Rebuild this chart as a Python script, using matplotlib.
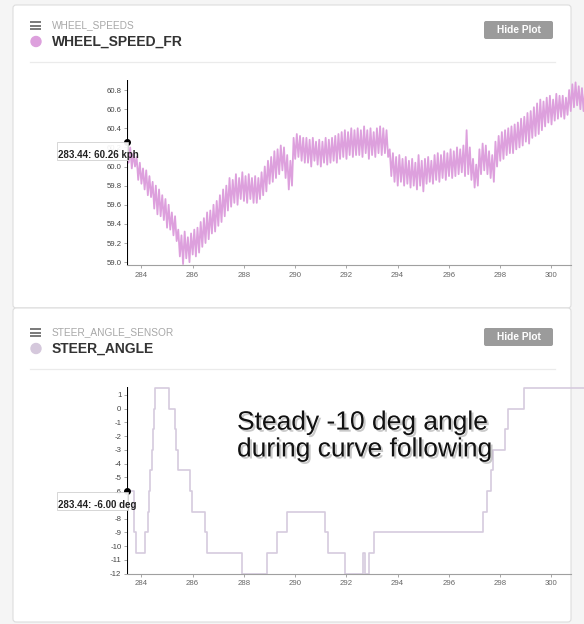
import numpy as np
import matplotlib.pyplot as plt
import matplotlib.patheffects as pe
from matplotlib.patches import FancyBboxPatch, Rectangle, Circle

plt.rcParams['font.family'] = ['Liberation Sans', 'DejaVu Sans']
plt.rcParams['axes.unicode_minus'] = False

# -----------------
# Data
# -----------------

# cursor position (tooltip values)
t_cursor = 283.44
speed_at_cursor = 60.26
steer_at_cursor = -6.00

# WHEEL_SPEED_FR in kph, 16 samples per second starting at the cursor
sample_period = 0.0625
speed_kph = [
    60.26, 60.04, 60.20, 59.98, 60.14, 60.00, 60.10, 59.86, 60.04, 59.82, 59.98, 59.76, 59.96, 59.70, 59.90, 59.68,
    59.84, 59.56, 59.80, 59.50, 59.76, 59.48, 59.70, 59.44, 59.66, 59.36, 59.60, 59.34, 59.52, 59.28, 59.48, 59.22,
    59.34, 59.06, 59.28, 58.98, 59.32, 59.04, 59.26, 59.00, 59.30, 59.08, 59.34, 59.06, 59.36, 59.10, 59.42, 59.16,
    59.46, 59.20, 59.52, 59.24, 59.54, 59.30, 59.60, 59.32, 59.64, 59.38, 59.70, 59.42, 59.76, 59.48, 59.80, 59.54,
    59.88, 59.58, 59.86, 59.62, 59.92, 59.60, 59.88, 59.66, 59.94, 59.64, 59.90, 59.62, 59.92, 59.66, 59.88, 59.62,
    59.90, 59.62, 59.88, 59.66, 59.94, 59.70, 60.00, 59.74, 60.06, 59.82, 60.10, 59.84, 60.16, 59.88, 60.18, 59.92,
    60.22, 59.96, 60.20, 59.88, 60.12, 59.76, 60.06, 59.80, 60.30, 60.08, 60.34, 60.10, 60.32, 60.06, 60.30, 60.04,
    60.30, 60.04, 60.28, 60.00, 60.30, 60.06, 60.26, 60.02, 60.28, 60.00, 60.26, 60.04, 60.30, 60.02, 60.28, 60.04,
    60.30, 60.06, 60.32, 60.04, 60.34, 60.08, 60.36, 60.10, 60.38, 60.08, 60.36, 60.12, 60.40, 60.10, 60.38, 60.12,
    60.40, 60.12, 60.38, 60.10, 60.42, 60.14, 60.38, 60.08, 60.40, 60.12, 60.36, 60.10, 60.40, 60.14, 60.42, 60.12,
    60.40, 60.14, 60.38, 60.10, 60.18, 59.90, 60.14, 59.84, 60.10, 59.80, 60.12, 59.84, 60.08, 59.80, 60.10, 59.82,
    60.06, 59.78, 60.08, 59.80, 60.04, 59.76, 60.12, 59.80, 60.06, 59.74, 60.08, 59.82, 60.10, 59.84, 60.06, 59.82,
    60.12, 59.86, 60.14, 59.84, 60.12, 59.88, 60.16, 59.86, 60.14, 59.90, 60.18, 59.88, 60.16, 59.90, 60.20, 59.92,
    60.18, 59.94, 60.22, 59.90, 60.38, 59.92, 60.20, 59.86, 60.08, 59.78, 60.02, 59.80, 60.18, 59.92, 60.24, 59.96,
    60.22, 59.92, 60.16, 59.88, 60.12, 59.84, 60.26, 60.00, 60.32, 60.06, 60.36, 60.08, 60.38, 60.12, 60.40, 60.14,
    60.42, 60.14, 60.44, 60.18, 60.46, 60.20, 60.50, 60.22, 60.52, 60.26, 60.56, 60.24, 60.58, 60.30, 60.62, 60.32,
    60.66, 60.34, 60.70, 60.38, 60.68, 60.42, 60.72, 60.46, 60.74, 60.44, 60.70, 60.48, 60.76, 60.50, 60.74, 60.52,
    60.74, 60.50, 60.72, 60.54, 60.80, 60.58, 60.86, 60.62, 60.88, 60.64, 60.84, 60.60, 60.82, 60.58, 60.80, 60.56,
]

# STEER_ANGLE steps (time of change, new angle in deg)
steer_times = [283.44, 283.70, 283.81, 284.16, 284.26, 284.30, 284.35, 284.40,
               284.44, 284.48, 284.55, 285.09, 285.30, 285.36, 285.42, 285.91,
               285.98, 286.50, 286.56, 287.93, 288.90, 289.29, 289.68, 291.17,
               291.30, 291.95, 292.64, 292.71, 292.87, 293.06, 297.32, 297.48,
               297.65, 297.71, 298.19, 298.32, 298.93, 301.30]
steer_deg = [-6, -9, -10.5, -9, -7.5, -6, -4.5, -3,
             -1.5, 0, 1.5, 0, -1.5, -3, -4.5, -6,
             -7.5, -9, -10.5, -12, -10.5, -9, -7.5, -9,
             -10.5, -12, -10.5, -12, -10.5, -9, -7.5, -6,
             -4.5, -3, -1.5, 0, 1.5, 1.5]

time_ticks = [284, 286, 288, 290, 292, 294, 296, 298, 300]
speed_ticks = [59.0, 59.2, 59.4, 59.6, 59.8, 60.0, 60.2, 60.4, 60.6, 60.8]
steer_ticks = [1, 0, -1, -2, -3, -4, -5, -6, -7, -8, -9, -10, -11, -12]

speed_color = "#dda0dd"
steer_color = "#d6cbde"

# -----------------
# Figure / page
# -----------------

W, H = 584, 624
fig = plt.figure(figsize=(W / 100, H / 100), dpi=100, facecolor="#f5f5f5")


def px_rect(x0, y0, x1, y1):
    return [x0 / W, 1 - y1 / H, (x1 - x0) / W, (y1 - y0) / H]


bg = fig.add_axes([0, 0, 1, 1], zorder=0)
bg.set_xlim(0, W)
bg.set_ylim(H, 0)
bg.axis("off")

# cards
for y0, y1 in [(5, 308), (308, 622)]:
    bg.add_patch(FancyBboxPatch((13, y0), 558, y1 - y0,
                                boxstyle="round,pad=0,rounding_size=3",
                                fc="white", ec="#dddddd", lw=0.8))


def header(y_top, group, name, dot_color):
    # hamburger icon
    for dy in (0, 3.5, 7):
        bg.plot([30, 41], [y_top - 3 + dy] * 2, color="#555555", lw=1.1,
                solid_capstyle="butt")
    bg.text(52, y_top, group, fontsize=7.3, color="#a8a8a8", va="center")
    bg.add_patch(Circle((36, y_top + 16.5), 5, color=dot_color))
    bg.text(52, y_top + 17, name, fontsize=10, fontweight="bold",
            color="#333333", va="center")
    bg.plot([30, 555], [y_top + 36.5] * 2, color="#ebebeb", lw=0.9)
    bg.add_patch(FancyBboxPatch((484, y_top - 4), 69, 18,
                                boxstyle="round,pad=0,rounding_size=2",
                                fc="#9b9b9b", ec="none"))
    bg.text(518.5, y_top + 5, "Hide Plot", fontsize=7.3, fontweight="bold",
            color="white", ha="center", va="center")


header(25, "WHEEL_SPEEDS", "WHEEL_SPEED_FR", speed_color)
header(332, "STEER_ANGLE_SENSOR", "STEER_ANGLE", "#d5c8dc")

# -----------------
# Plots
# -----------------

t_speed = t_cursor + sample_period * np.arange(len(speed_kph))
x_right = 301.27

ax1 = fig.add_axes(px_rect(127, 80, 584, 265), zorder=2)
ax1.plot(t_speed, speed_kph, color=speed_color, lw=1.3)
ax1.set_xlim(t_cursor, x_right)
ax1.set_ylim(58.97, 60.905)
ax1.set_yticks(speed_ticks)
ax1.set_yticklabels([f"{v:.1f}" for v in speed_ticks])

ax2 = fig.add_axes(px_rect(127, 386.7, 584, 573.5), zorder=2)
ax2.step(steer_times, steer_deg, where="post", color=steer_color, lw=1.2)
ax2.set_xlim(t_cursor, x_right)
ax2.set_ylim(-12, 1.6)
ax2.set_yticks(steer_ticks)

for ax, val in [(ax1, speed_at_cursor), (ax2, steer_at_cursor)]:
    ax.patch.set_alpha(0)
    ax.set_xticks(time_ticks)
    for s in ("top", "right", "left"):
        ax.spines[s].set_visible(False)
    ax.spines["bottom"].set_color("#a0a0a0")
    ax.spines["bottom"].set_linewidth(0.8)
    ax.spines["bottom"].set_bounds(t_cursor, 300.75)
    ax.tick_params(axis="both", direction="out", length=2.5, width=0.6,
                   color="#999999", labelsize=5.6, pad=1.5)
    ax.tick_params(axis="x", labelcolor="#666666", pad=2.5)
    ax.tick_params(axis="y", labelcolor="#444444")
    ax.axvline(t_cursor, color="black", lw=1.5, zorder=5)
    ax.plot(t_cursor, val, "o", color="black", ms=4, clip_on=False, zorder=6)

# -----------------
# Tooltips + note
# -----------------

ov = fig.add_axes([0, 0, 1, 1], zorder=4)
ov.set_xlim(0, W)
ov.set_ylim(H, 0)
ov.axis("off")

for y_top, label in [(142, f"{t_cursor:.2f}: {speed_at_cursor:.2f} kph"),
                     (492, f"{t_cursor:.2f}: {steer_at_cursor:.2f} deg")]:
    ov.add_patch(Rectangle((57, y_top), 71, 18, fc="white", ec="#cccccc",
                           lw=0.6, alpha=0.93))
    ov.text(58, y_top + 13.5, label, fontsize=7, fontweight="bold",
            color="#222222", va="center")

ov.text(237, 436, "Steady -10 deg angle\nduring curve following",
        fontsize=19, color="#111111", va="center", linespacing=1.15,
        path_effects=[pe.withSimplePatchShadow(offset=(1.5, -1.5),
                                               shadow_rgbFace="#888888",
                                               alpha=0.45)])

fig.savefig("out.png", dpi=100, facecolor=fig.get_facecolor())
